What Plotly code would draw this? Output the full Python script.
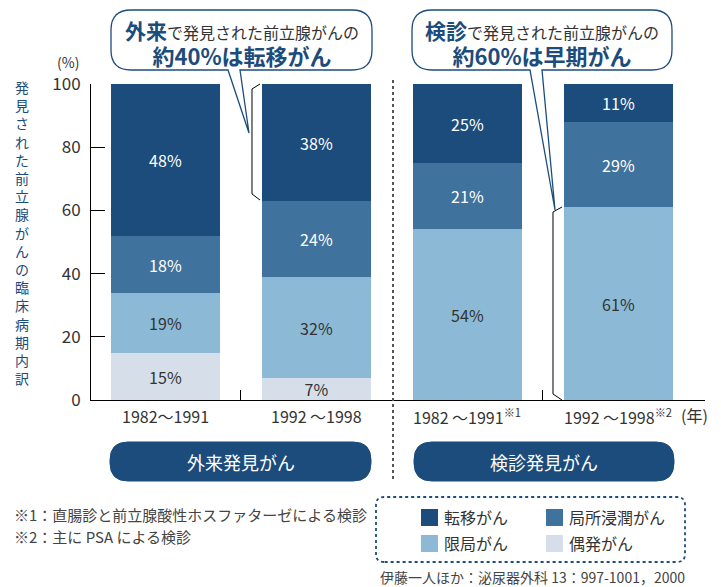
import plotly.graph_objects as go

# 前立腺がんの臨床病期内訳（外来発見 vs 検診発見）
categories = ["1982～1991", "1992 ～1998", "1982 ～1991", "1992 ～1998"]
cat_notes = ["", "", "※1", "※2"]
stages = ["偶発がん", "限局がん", "局所浸潤がん", "転移がん"]

incidental = [15, 7, 0, 0]
localized = [19, 32, 54, 61]
invasive = [18, 24, 21, 27]
metastatic = [48, 37, 25, 12]

incidental_lbl = ["15%", "7%", "", ""]
localized_lbl = ["19%", "32%", "54%", "61%"]
invasive_lbl = ["18%", "24%", "21%", "29%"]
metastatic_lbl = ["48%", "38%", "25%", "11%"]

colors = ["#d6dfe9", "#8cbad6", "#3f729c", "#1c4c7c"]
text_colors = ["#333333", "#333333", "white", "white"]
groups = ["外来発見がん", "検診発見がん"]

FONT = "Noto Sans CJK JP"
BLUE = "#1c4c7c"
GRAY = "#333333"

# page has an 8px body margin, so the figure is 8px smaller and everything shifts by 8
OFF = 8
W, H = 721 - OFF, 587 - OFF
# plot area in reference pixels
L, R, T, B = 91, 705, 84, 400


def px(x):
    return (x - L) / (R - L)


def py(y):
    return (B - y) / (B - T)


def pt(x, y):
    return f"{px(x):.5f},{py(y):.5f}"


def rounded_path(x0, y0, x1, y1, r, tail=None):
    # tail = (gap_left, gap_right, tip_x, tip_y) on the bottom edge
    if tail:
        gl, gr, tx, ty = tail
        d = f"M {pt(gl, y1)} L {pt(x0 + r, y1)} "
    else:
        d = f"M {pt(x0 + r, y1)} "
    d += f"Q {pt(x0, y1)} {pt(x0, y1 - r)} L {pt(x0, y0 + r)} "
    d += f"Q {pt(x0, y0)} {pt(x0 + r, y0)} L {pt(x1 - r, y0)} "
    d += f"Q {pt(x1, y0)} {pt(x1, y0 + r)} L {pt(x1, y1 - r)} "
    d += f"Q {pt(x1, y1)} {pt(x1 - r, y1)} "
    if tail:
        d += f"L {pt(gr, y1)} L {pt(tx, ty)} Z"
    else:
        d += "Z"
    return d


def note(x, y, text, size, color=GRAY, xanchor="center", **kw):
    return dict(x=px(x), y=py(y), xref="paper", yref="paper", text=text,
                showarrow=False, xanchor=xanchor, yanchor="middle",
                font=dict(family=FONT, size=size, color=color), **kw)


xs = list(range(len(categories)))
fig = go.Figure()
series = [incidental, localized, invasive, metastatic]
labels = [incidental_lbl, localized_lbl, invasive_lbl, metastatic_lbl]
for name, vals, lbl, c, tc in zip(stages, series, labels, colors, text_colors):
    fig.add_trace(go.Bar(
        x=xs, y=vals, name=name, width=0.722,
        marker=dict(color=c, line=dict(width=0)),
        text=lbl, textposition="inside", insidetextanchor="middle",
        constraintext="none", textangle=0,
        textfont=dict(family=FONT, size=16, color=tc),
        hoverinfo="skip", showlegend=False,
    ))

shapes = []
annotations = []

# y-axis title (vertical, one char per line)
title = "発見された前立腺がんの臨床病期内訳"
annotations.append(note(22, 232, "<br>".join(title), 14, BLUE))

annotations.append(note(68, 62, "(%)", 14))

# category labels
for i, (c, n) in enumerate(zip(categories, cat_notes)):
    t = c + (f"<sup>{n}</sup>" if n else "")
    annotations.append(dict(x=xs[i], y=py(416), xref="x", yref="paper", text=t,
                            showarrow=False, xanchor="center", yanchor="middle",
                            font=dict(family=FONT, size=16, color=GRAY)))
annotations.append(note(679, 415, "(年)", 16, xanchor="left"))

# break brackets
for bx, ex, ytop, ybot in [(252, 260, 84, 200), (553, 562, 207, 400)]:
    shapes.append(dict(type="path", xref="paper", yref="paper",
                       path=f"M {pt(ex, ytop)} L {pt(bx, ytop + 5)} L {pt(bx, ybot - 6)} L {pt(ex, ybot)}",
                       line=dict(color="black", width=1)))

# dotted divider
shapes.append(dict(type="line", xref="paper", yref="paper", x0=px(393), x1=px(393),
                   y0=py(80), y1=py(482), line=dict(color="#555555", width=2, dash="dot")))

# callouts
callouts = [
    (111, 372, (228, 240, 249, 133), "外来", "40%", "転移がん"),
    (412, 672, (530, 542, 555, 210), "検診", "60%", "早期がん"),
]
for x0, x1, tail, head, pc, kind in callouts:
    shapes.append(dict(type="path", xref="paper", yref="paper", layer="above",
                       path=rounded_path(x0, 10, x1, 70, 20, tail),
                       fillcolor="white", line=dict(color=BLUE, width=1.3)))
    cx = (x0 + x1) / 2
    txt = (f"<b><span style='font-size:21px;color:{BLUE}'>{head}</span></b>"
           f"<span style='font-size:16px;color:{GRAY}'>で発見された前立腺がんの</span><br>"
           f"<b><span style='font-size:22px;color:{BLUE}'>約{pc}は{kind}</span></b>")
    annotations.append(note(cx, 43, txt, 20, BLUE))

# group pills
for (x0, x1), g in zip([(110, 371), (414, 674)], groups):
    shapes.append(dict(type="path", xref="paper", yref="paper",
                       path=rounded_path(x0, 442, x1, 481, 18),
                       fillcolor=BLUE, line=dict(color=BLUE, width=1)))
    annotations.append(note((x0 + x1) / 2, 462, g, 18, "white"))

# footnotes
for y, t in [(514, "※1：直腸診と前立腺酸性ホスファターゼによる検診"), (536, "※2：主に PSA による検診")]:
    annotations.append(note(12, y, t, 15, "#444444", xanchor="left"))

# legend box
shapes.append(dict(type="path", xref="paper", yref="paper",
                   path=rounded_path(376, 497, 685, 562, 8),
                   line=dict(color=BLUE, width=1.8, dash="dot")))
legend_pos = {"転移がん": (421, 517), "局所浸潤がん": (546, 517),
              "限局がん": (421, 543), "偶発がん": (546, 543)}
for name, c in zip(stages, colors):
    lx, ly = legend_pos[name]
    shapes.append(dict(type="rect", xref="paper", yref="paper",
                       x0=px(lx), x1=px(lx + 17), y0=py(ly - 8), y1=py(ly + 9),
                       fillcolor=c, line=dict(width=0)))
    annotations.append(note(lx + 21, ly, name, 16, xanchor="left"))

annotations.append(note(378, 577, "伊藤一人ほか：泌尿器外科 13：997-1001，2000", 14,
                        "#444444", xanchor="left"))

fig.update_layout(
    width=W, height=H,
    margin=dict(l=L - OFF, r=W - (R - OFF), t=T - OFF, b=H - (B - OFF)),
    barmode="stack", bargap=0,
    plot_bgcolor="white", paper_bgcolor="white",
    shapes=shapes, annotations=annotations,
    font=dict(family=FONT, color=GRAY),
    xaxis=dict(range=[-0.493, 3.573], showgrid=False, zeroline=False,
               showline=True, linecolor="black", linewidth=1,
               tickvals=[0.5, 2.5, 3.5725], ticks="inside", ticklen=10,
               tickcolor="black", showticklabels=False, fixedrange=True),
    yaxis=dict(range=[0, 100], showgrid=False, zeroline=False,
               showline=True, linecolor="black", linewidth=1,
               tickvals=[0, 20, 40, 60, 80, 100], ticks="inside", ticklen=14,
               tickcolor="black", ticklabelstandoff=6,
               tickfont=dict(family=FONT, size=17, color=GRAY), fixedrange=True),
)

fig.write_html("out.html")
